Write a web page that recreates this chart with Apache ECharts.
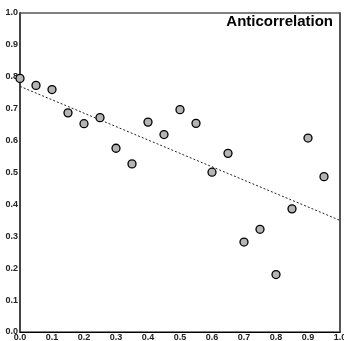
<!DOCTYPE html>
<html>
<head>
<meta charset="utf-8">
<title>Anticorrelation</title>
<script src="https://cdn.jsdelivr.net/npm/echarts@6/dist/echarts.min.js"></script>
<style>
  html, body { margin: 0; padding: 0; background: #fff; }
  #main { width: 344px; height: 341px; }
</style>
</head>
<body>
<div id="main"></div>
<script type="text/javascript">
// data
var xValues = [0.0, 0.05, 0.1, 0.15, 0.2, 0.25, 0.3, 0.35, 0.4, 0.45, 0.5, 0.55, 0.6, 0.65, 0.7, 0.75, 0.8, 0.85, 0.9, 0.95];
var yValues = [0.795, 0.773, 0.760, 0.687, 0.653, 0.672, 0.576, 0.527, 0.658, 0.619, 0.697, 0.654, 0.501, 0.560, 0.282, 0.322, 0.180, 0.386, 0.608, 0.487];
var fitLine = [[0, 0.77], [1, 0.35]];
var titleText = 'Anticorrelation';

var points = xValues.map(function (x, i) { return [x, yValues[i]]; });

var labelStyle = {
  fontFamily: 'Liberation Sans, Arial, sans-serif',
  fontWeight: 'bold',
  fontSize: 9,
  color: '#222'
};

var myChart = echarts.init(document.getElementById('main'));
myChart.setOption({
  animation: false,
  title: {
    text: titleText,
    right: 6,
    top: 9,
    textStyle: {
      fontFamily: 'Liberation Sans, Arial, sans-serif',
      fontWeight: 'bold',
      fontSize: 15,
      color: '#000'
    }
  },
  grid: {
    left: 20, right: 4, top: 13, bottom: 9,
    outerBoundsMode: 'none',
    containLabel: false,
    show: true,
    borderColor: '#000',
    borderWidth: 1
  },
  xAxis: {
    type: 'value',
    min: 0, max: 1, interval: 0.1,
    axisLine: { lineStyle: { color: '#000', width: 1 } },
    axisTick: { show: false },
    splitLine: { show: false },
    axisLabel: Object.assign({ margin: 1, hideOverlap: false, formatter: function (v) { return v.toFixed(1); } }, labelStyle)
  },
  yAxis: [{
    type: 'value',
    min: 0, max: 1, interval: 0.1,
    axisLine: { show: true, lineStyle: { color: '#444', width: 2 } },
    axisTick: { show: false },
    splitLine: { show: false },
    axisLabel: Object.assign({ margin: 2, padding: [0, 0, 5, 0], formatter: function (v) { return v.toFixed(1); } }, labelStyle)
  }, {
    type: 'value',
    position: 'right',
    min: 0, max: 1, interval: 0.1,
    axisLine: { show: true, lineStyle: { color: '#555', width: 2 } },
    axisTick: { show: false },
    axisLabel: { show: false },
    splitLine: { show: false }
  }],
  series: [{
    type: 'line',
    data: fitLine,
    symbol: 'none',
    silent: true,
    lineStyle: { color: '#222', width: 1, type: [2, 2] },
    z: 1
  }, {
    type: 'scatter',
    data: points,
    symbol: 'circle',
    symbolSize: 8,
    itemStyle: { color: '#b4b4b4', borderColor: '#000', borderWidth: 1.3, opacity: 1 },
    z: 3
  }]
});
</script>
</body>
</html>
